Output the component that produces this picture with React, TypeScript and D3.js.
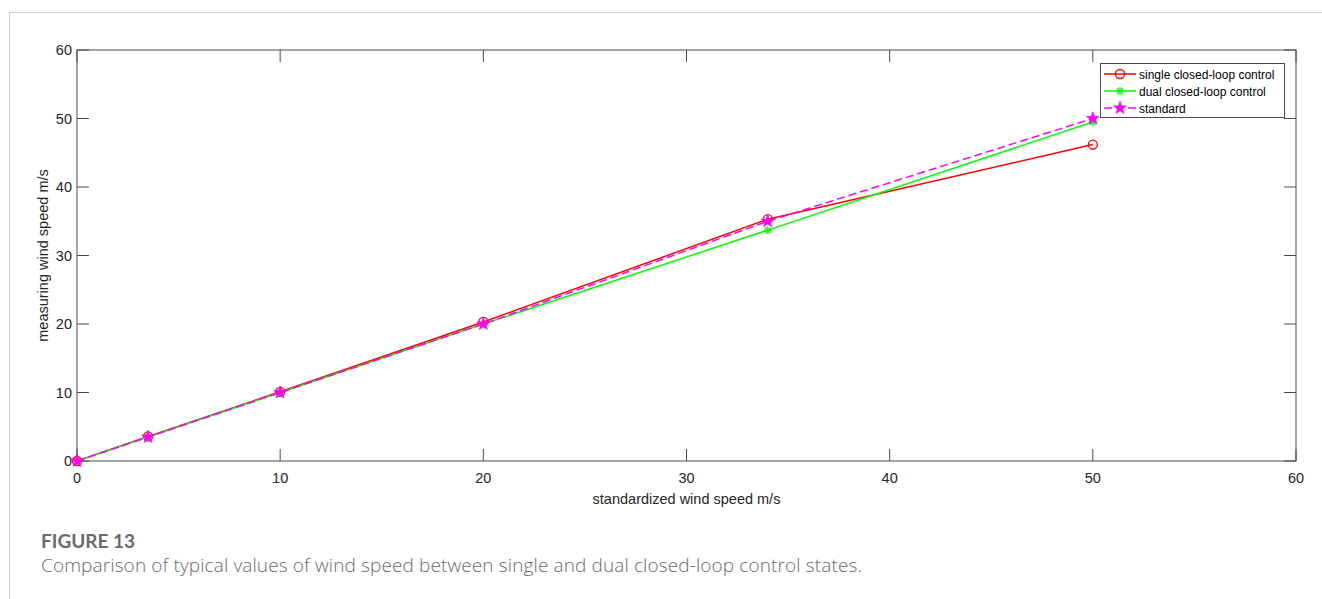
import React from 'react';
import * as d3 from 'd3';

const W = 1322;
const H = 599;
const M = { left: 77, top: 50, right: 1296, bottom: 461 };

const speeds = [0, 3.5, 10, 20, 34, 50];
const singleLoop = [0, 3.6, 10.1, 20.3, 35.3, 46.2];
const dualLoop = [0, 3.5, 10, 20, 33.7, 49.5];
const standard = [0, 3.5, 10, 20, 35, 50];
const ticks = [0, 10, 20, 30, 40, 50, 60];

const AXIS = '#4a4a4a';
const FONT = 'Arial, "Liberation Sans", Helvetica, sans-serif';
const CAP_FONT = '"Open Sans", Lato, sans-serif';

const series = [
  { name: 'single closed-loop control', values: singleLoop, color: '#ff0000', marker: 'circle', dash: null },
  { name: 'dual closed-loop control', values: dualLoop, color: '#00ff00', marker: 'asterisk', dash: null },
  { name: 'standard', values: standard, color: '#ff00ff', marker: 'star', dash: '8,4' },
];

function Marker({ type, x, y, color }: { type: string; x: number; y: number; color: string }) {
  if (type === 'circle') {
    return <circle cx={x} cy={y} r={4.5} fill="none" stroke={color} strokeWidth={1.3} />;
  }
  if (type === 'asterisk') {
    const r = 4;
    const d = r * 0.7;
    return (
      <g stroke={color} strokeWidth={1.3}>
        <line x1={x - r} y1={y} x2={x + r} y2={y} />
        <line x1={x} y1={y - r} x2={x} y2={y + r} />
        <line x1={x - d} y1={y - d} x2={x + d} y2={y + d} />
        <line x1={x - d} y1={y + d} x2={x + d} y2={y - d} />
      </g>
    );
  }
  const star = d3.symbol().type(d3.symbolStar).size(50)();
  return <path d={star || ''} transform={`translate(${x},${y})`} fill={color} stroke={color} strokeWidth={0.8} />;
}

export default function App() {
  const x = d3.scaleLinear().domain([0, 60]).range([M.left, M.right]);
  const y = d3.scaleLinear().domain([0, 60]).range([M.bottom, M.top]);
  const tl = 12;

  const line = (vals: number[]) =>
    d3.line<number>().x((_, i) => x(speeds[i])).y((v) => y(v))(vals) || '';

  const lg = { x: 1100, y: 63, w: 184, h: 54 };

  return (
    <svg width={W} height={H} style={{ position: 'absolute', left: 0, top: 0, background: '#fff' }}>
      {/* card border */}
      <line x1={9.5} y1={12.5} x2={W} y2={12.5} stroke="#cfcfcf" strokeWidth={1} />
      <line x1={9.5} y1={12.5} x2={9.5} y2={H} stroke="#cfcfcf" strokeWidth={1} />

      {/* axes box */}
      <rect x={M.left} y={M.top} width={M.right - M.left} height={M.bottom - M.top} fill="none" stroke={AXIS} strokeWidth={1} />

      {ticks.map((t) => (
        <g key={'x' + t}>
          <line x1={x(t)} x2={x(t)} y1={M.bottom} y2={M.bottom - tl} stroke={AXIS} />
          <line x1={x(t)} x2={x(t)} y1={M.top} y2={M.top + tl} stroke={AXIS} />
          <text x={x(t)} y={M.bottom + 22} textAnchor="middle" fontSize={14.5} fontFamily={FONT} fill="#262626">
            {t}
          </text>
        </g>
      ))}
      {ticks.map((t) => (
        <g key={'y' + t}>
          <line x1={M.left} x2={M.left + tl} y1={y(t)} y2={y(t)} stroke={AXIS} />
          <line x1={M.right} x2={M.right - tl} y1={y(t)} y2={y(t)} stroke={AXIS} />
          <text x={M.left - 5} y={y(t) + 5} textAnchor="end" fontSize={14.5} fontFamily={FONT} fill="#262626">
            {t}
          </text>
        </g>
      ))}

      <text x={(M.left + M.right) / 2} y={504} textAnchor="middle" fontSize={14.5} fontFamily={FONT} fill="#262626">
        standardized wind speed m/s
      </text>
      <text
        transform={`translate(48,${(M.top + M.bottom) / 2}) rotate(-90)`}
        textAnchor="middle"
        fontSize={14.5}
        fontFamily={FONT}
        fill="#262626"
      >
        measuring wind speed m/s
      </text>

      {/* series */}
      {series.map((s) => (
        <g key={s.name}>
          <path d={line(s.values)} fill="none" stroke={s.color} strokeWidth={1.5} strokeDasharray={s.dash || undefined} />
          {s.values.map((v, i) => (
            <Marker key={i} type={s.marker} x={x(speeds[i])} y={y(v)} color={s.color} />
          ))}
        </g>
      ))}

      {/* legend */}
      <rect x={lg.x + 0.5} y={lg.y + 0.5} width={lg.w} height={lg.h} fill="#fff" stroke={AXIS} strokeWidth={1} />
      {series.map((s, i) => {
        const cy = lg.y + 11 + i * 17;
        return (
          <g key={'lg' + s.name}>
            <line x1={lg.x + 4} x2={lg.x + 36} y1={cy} y2={cy} stroke={s.color} strokeWidth={1.5} strokeDasharray={s.dash || undefined} />
            <Marker type={s.marker} x={lg.x + 20} y={cy} color={s.color} />
            <text x={lg.x + 39} y={cy + 4.5} fontSize={12} fontFamily={FONT} fill="#000">
              {s.name}
            </text>
          </g>
        );
      })}

      {/* caption */}
      <text x={41} y={548} fontSize={19} fontWeight={700} fontFamily='Lato, "Open Sans", sans-serif' fill="#6b6b6b">
        FIGURE 13
      </text>
      <text x={41} y={572} fontSize={19} fontWeight={300} fontFamily={CAP_FONT} fill="#6b6b6b" textLength={821} lengthAdjust="spacing">
        Comparison of typical values of wind speed between single and dual closed-loop control states.
      </text>
    </svg>
  );
}
